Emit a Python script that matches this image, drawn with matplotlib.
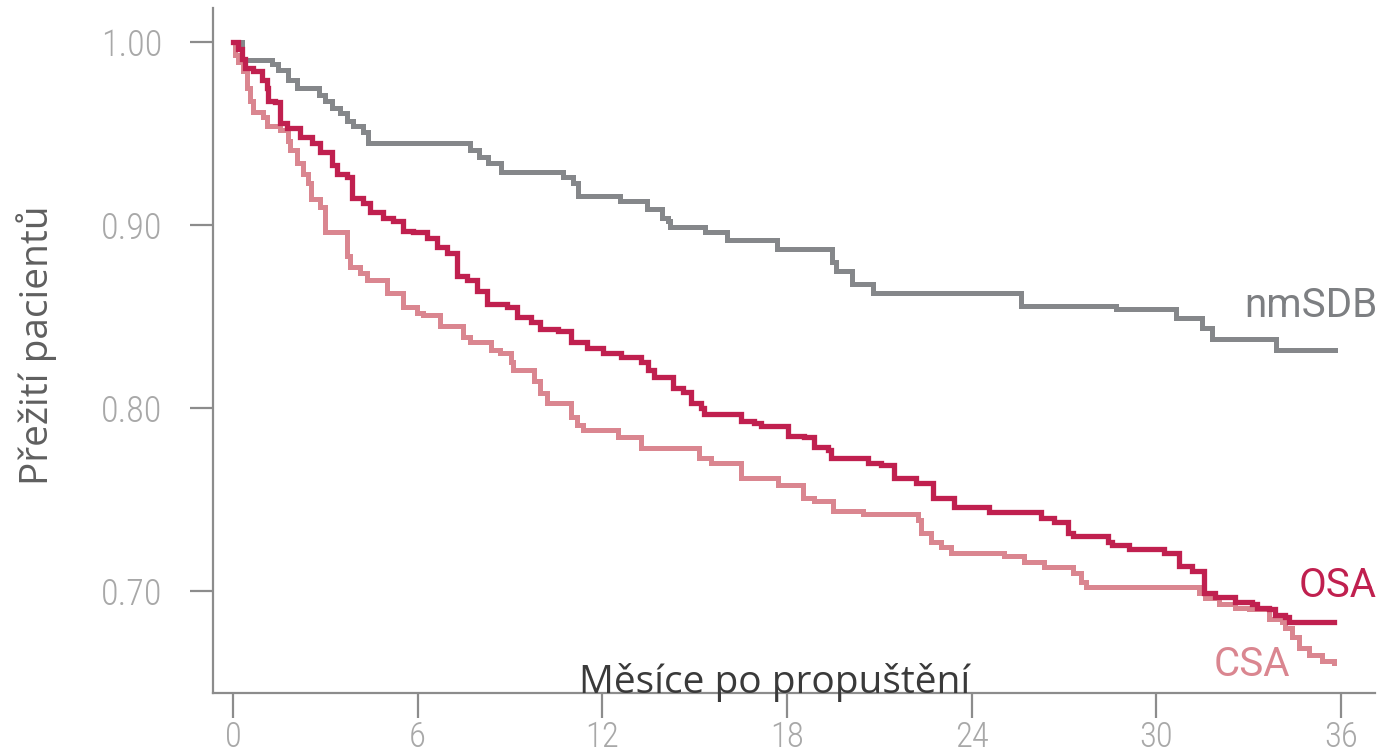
import matplotlib
matplotlib.use("Agg")
import matplotlib.pyplot as plt
from matplotlib import font_manager

# Kaplan-Meier curves, months after discharge vs. survival
nmsdb_t = [0, 0.3, 1.27, 1.45, 1.79, 2.08, 2.78, 3.0, 3.22, 3.48, 3.71, 3.9, 4.23, 4.39,
           7.7, 8.0, 8.3, 8.7, 10.72, 11.05, 11.21, 12.58, 13.46, 13.94, 14.14, 14.2,
           15.34, 16.05, 17.68, 19.45, 19.6, 20.1, 20.8, 25.6, 28.7, 30.65, 31.5, 31.8,
           33.9, 35.8]
nmsdb_s = [1.0, 0.990, 0.988, 0.985, 0.979, 0.975, 0.971, 0.968, 0.964, 0.961, 0.957, 0.954, 0.951, 0.945,
           0.941, 0.937, 0.934, 0.929, 0.926, 0.923, 0.916, 0.913, 0.909, 0.904, 0.902, 0.899,
           0.896, 0.892, 0.887, 0.880, 0.875, 0.868, 0.863, 0.856, 0.854, 0.849, 0.844, 0.838,
           0.832, 0.832]

osa_t = [0, 0.16, 0.29, 0.39, 0.65, 0.94, 1.11, 1.14, 1.37, 1.53, 1.76, 2.18, 2.57, 2.83,
         3.22, 3.39, 3.71, 3.87, 4.23, 4.46, 4.88, 5.21, 5.53, 5.86, 6.32, 6.64, 6.97, 7.29,
         7.62, 7.94, 8.27, 8.92, 9.24, 9.67, 9.99, 10.55, 10.97, 11.52, 12.04, 12.6, 13.25,
         13.48, 13.67, 14.29, 14.62, 14.88, 15.2, 15.3, 16.5, 16.93, 17.15, 18.03, 18.55,
         18.88, 19.34, 19.43, 20.64, 21.06, 21.48, 22.2, 22.75, 23.44, 24.58, 26.27, 26.69,
         27.15, 27.31, 28.45, 28.55, 29.13, 30.27, 30.73, 31.15, 31.55, 31.9, 32.55, 33.11,
         33.27, 33.66, 33.85, 34.18, 34.31, 35.78]
osa_s = [1.0, 0.996, 0.991, 0.986, 0.984, 0.979, 0.975, 0.968, 0.967, 0.956, 0.953, 0.948, 0.945, 0.940,
         0.933, 0.928, 0.926, 0.915, 0.912, 0.907, 0.904, 0.902, 0.897, 0.896, 0.893, 0.888, 0.885, 0.872,
         0.870, 0.864, 0.857, 0.855, 0.850, 0.847, 0.843, 0.842, 0.836, 0.833, 0.830, 0.828, 0.825,
         0.821, 0.817, 0.811, 0.809, 0.803, 0.800, 0.797, 0.793, 0.792, 0.790, 0.785, 0.784,
         0.779, 0.777, 0.773, 0.770, 0.769, 0.762, 0.759, 0.751, 0.746, 0.743, 0.740, 0.738,
         0.732, 0.730, 0.727, 0.725, 0.723, 0.721, 0.714, 0.711, 0.699, 0.697, 0.694, 0.693,
         0.691, 0.690, 0.687, 0.686, 0.683, 0.683]

csa_t = [0, 0.05, 0.16, 0.33, 0.46, 0.55, 0.65, 0.98, 1.11, 1.53, 1.79, 1.86, 2.08, 2.28,
         2.44, 2.54, 2.83, 3.0, 3.71, 3.81, 4.13, 4.36, 5.01, 5.53, 5.99, 6.18, 6.74, 7.49,
         7.71, 8.37, 8.69, 9.02, 9.11, 9.77, 9.99, 10.22, 10.97, 11.17, 11.39, 12.5, 13.25,
         15.14, 15.53, 16.5, 17.71, 18.52, 18.88, 19.5, 20.48, 22.27, 22.36, 22.69, 23.01,
         23.34, 25.07, 25.72, 26.37, 27.31, 27.57, 27.73, 31.38, 31.58, 32.03, 32.55, 33.01,
         33.66, 34.08, 34.18, 34.41, 34.64, 34.96, 35.38, 35.78]
csa_s = [1.0, 0.993, 0.989, 0.984, 0.975, 0.968, 0.962, 0.959, 0.954, 0.952, 0.946, 0.941, 0.934, 0.928,
         0.923, 0.914, 0.910, 0.896, 0.883, 0.877, 0.874, 0.870, 0.863, 0.855, 0.852, 0.851, 0.845, 0.839,
         0.836, 0.832, 0.830, 0.825, 0.821, 0.815, 0.808, 0.803, 0.795, 0.791, 0.788, 0.784, 0.778,
         0.773, 0.770, 0.762, 0.758, 0.751, 0.749, 0.744, 0.742, 0.739, 0.732, 0.727, 0.724,
         0.721, 0.719, 0.716, 0.713, 0.710, 0.705, 0.702, 0.699, 0.696, 0.693, 0.691, 0.690,
         0.685, 0.683, 0.680, 0.675, 0.669, 0.665, 0.662, 0.661]

x_ticks = [0, 6, 12, 18, 24, 30, 36]
y_ticks = [0.70, 0.80, 0.90, 1.00]

grey = "#85878a"
osa_col = "#c0204f"
csa_col = "#da8690"
axis_col = "#8c8c8c"
tick_col = "#a8a8a8"

# narrow face for the tick numbers, if one is around
names = {f.name for f in font_manager.fontManager.ttflist}
narrow = None
for cand in ["Roboto Condensed", "Liberation Sans Narrow", "Open Sans Condensed"]:
    if cand in names:
        narrow = dict(family=cand, stretch="normal")
        break
if narrow is None:
    cond = [f for f in font_manager.fontManager.ttflist
            if f.stretch in ("condensed", "semi-condensed", 87.5, 75)]
    if cond:
        narrow = dict(family=cond[0].name, stretch="condensed")
    else:
        narrow = dict(family="Roboto", stretch="normal")

fig = plt.figure(figsize=(13.83, 7.55), dpi=100)
ax = fig.add_axes([0.154, 0.082, 0.8402, 0.9074])

ax.step(nmsdb_t, nmsdb_s, where="post", color=grey, lw=3.6, solid_joinstyle="miter")
ax.step(csa_t, csa_s, where="post", color=csa_col, lw=3.6, solid_joinstyle="miter")
ax.step(osa_t, osa_s, where="post", color=osa_col, lw=3.8, solid_joinstyle="miter")

ax.set_xlim(-0.65, 37.11)
ax.set_ylim(0.6443, 1.0186)

for side in ["top", "right"]:
    ax.spines[side].set_visible(False)
for side in ["left", "bottom"]:
    ax.spines[side].set_color(axis_col)
    ax.spines[side].set_linewidth(1.6)

ax.set_xticks(x_ticks)
ax.set_xticklabels([str(v) for v in x_ticks])
ax.set_yticks(y_ticks)
ax.set_yticklabels(["%.2f" % v for v in y_ticks])
ax.tick_params(axis="x", direction="out", length=18, width=1.6, color=axis_col,
               labelcolor=tick_col, pad=1.5, labelsize=25)
ax.tick_params(axis="y", direction="out", length=16.5, width=1.6, color=axis_col,
               labelcolor=tick_col, pad=20, labelsize=26)
for lab in ax.get_xticklabels() + ax.get_yticklabels():
    lab.set_fontfamily(narrow["family"])
    lab.set_fontstretch(narrow["stretch"])
    lab.set_fontweight("light")

ax.set_ylabel("Přežití pacientů", family="Open Sans", fontsize=28, color="#5f5f5f")
ax.yaxis.set_label_coords(-0.134, 0.508)

ax.text(17.6, 0.6443, "Měsíce po propuštění", family="Open Sans", fontsize=28,
        color="#3a3a3a", ha="center", va="baseline")

ax.text(37.2, 0.856, "nmSDB", family="Roboto", fontsize=29, color="#7d7f82",
        ha="right", va="center")
ax.text(37.15, 0.703, "OSA", family="Roboto", fontsize=29, color=osa_col,
        ha="right", va="center")
ax.text(34.35, 0.660, "CSA", family="Roboto", fontsize=29, color=csa_col,
        ha="right", va="center")

fig.savefig("out.png", dpi=100)
